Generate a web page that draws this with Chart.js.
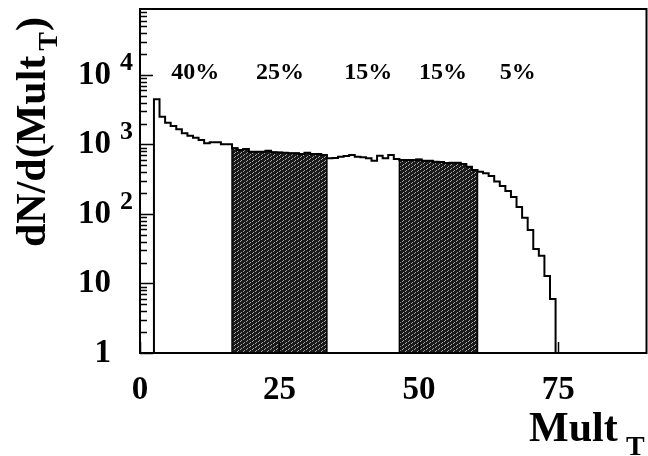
<!DOCTYPE html>
<html>
<head>
<meta charset="utf-8">
<script src="https://cdn.jsdelivr.net/npm/chart.js@4"></script>
<style>
  html, body { margin: 0; padding: 0; background: #fff; }
</style>
</head>
<body>
<canvas id="mult-chart" width="648" height="456"></canvas>
<script>
// Histogram: bins of width 1 centred on integers, first filled bin is Mult_T = 3
var firstBin = 3;
var counts = [
    4470, 2510, 2060, 1845, 1655, 1450, 1340, 1253, 1160, 1040,
    1075, 1075, 1006, 1006, 881, 834, 861, 788, 788, 788,
    813, 772, 767, 762, 747, 747, 730, 762, 730, 730,
    706, 632, 640, 667, 683, 706, 667, 655, 632, 585,
    690, 632, 706, 618, 598, 598, 598, 609, 585, 585,
    566, 560, 540, 548, 548, 524, 479, 430, 406, 385,
    352, 294, 252, 214, 176, 126, 88, 59, 31.4, 25.1,
    12.8, 6.0
];

// Centrality classes (edges in Mult_T), their labels and where the labels sit
var classEdges = [2.5, 16.5, 33.5, 46.5, 60.5, 74.5];
var classLabels = ['40%', '25%', '15%', '15%', '5%'];
var classLabelX = [9.9, 25.1, 40.9, 54.3, 67.7];
var shadedClasses = [1, 3];

// Axis ticks
var xTicks = [0, 25, 50, 75];
var xTickLabels = ['0', '25', '50', '75'];
var yTicks = [1, 10, 100, 1000, 10000];
var yTickBase = ['1', '10', '10', '10', '10'];
var yTickExp = ['', '', '2', '3', '4'];

var FONT = '"Liberation Serif", "Times New Roman", serif';

// outline of the bins with centres lo..hi, closed down to the axis at both ends
function stepPoints(lo, hi) {
    var pts = [{x: lo - 0.5, y: 1}];
    for (var k = lo; k <= hi; k++) {
        var v = counts[k - firstBin];
        pts.push({x: k - 0.5, y: v});
        pts.push({x: k + 0.5, y: v});
    }
    pts.push({x: hi + 0.5, y: 1});
    return pts;
}

var canvas = document.getElementById('mult-chart');
var ctx2d = canvas.getContext('2d');

// dark hatch like the ROOT fill style: short broken diagonal dashes
function makePattern() {
    var c = document.createElement('canvas');
    c.width = 6; c.height = 4;
    var g = c.getContext('2d');
    g.fillStyle = '#1a1a1a';
    g.fillRect(0, 0, 6, 4);
    g.fillStyle = '#a8a8a8';
    g.fillRect(0, 1, 1, 1); g.fillRect(1, 0, 1, 1);
    g.fillRect(3, 3, 1, 1); g.fillRect(4, 2, 1, 1);
    return ctx2d.createPattern(c, 'repeat');
}
var hatch = makePattern();

var datasets = [{
    data: stepPoints(firstBin, firstBin + counts.length - 1),
    borderColor: '#000',
    borderWidth: 2,
    fill: false,
    order: 0
}];
shadedClasses.forEach(function(i) {
    datasets.push({
        data: stepPoints(classEdges[i] + 0.5, classEdges[i + 1] - 0.5),
        borderColor: '#000',
        borderWidth: 1.5,
        backgroundColor: hatch,
        fill: 'start',
        order: 1
    });
});

// ROOT-like frame, inward ticks, labels and titles
var rootFrame = {
    id: 'rootFrame',
    afterDraw: function(chart) {
        var ctx = chart.ctx, a = chart.chartArea;
        var xs = chart.scales.x, ys = chart.scales.y;
        ctx.save();
        ctx.strokeStyle = '#000';
        ctx.fillStyle = '#000';
        ctx.lineWidth = 2;
        ctx.strokeRect(a.left, a.top, a.right - a.left, a.bottom - a.top);

        // y ticks
        ctx.lineWidth = 1.5;
        ctx.beginPath();
        for (var d = 1; d <= ys.max; d *= 10) {
            for (var m = 1; m <= 9; m++) {
                var v = m * d;
                if (v > ys.max) break;
                var py = Math.round(ys.getPixelForValue(v)) + 0.5;
                ctx.moveTo(a.left, py);
                ctx.lineTo(a.left + (m === 1 ? 13 : 7), py);
            }
        }
        // x ticks
        xTicks.forEach(function(t) {
            var px = Math.round(xs.getPixelForValue(t)) + 0.5;
            ctx.moveTo(px, a.bottom);
            ctx.lineTo(px, a.bottom - 11);
        });
        ctx.stroke();

        // y tick labels
        yTicks.forEach(function(t, i) {
            var py = ys.getPixelForValue(t);
            ctx.font = 'bold 33px ' + FONT;
            ctx.textAlign = 'right';
            ctx.textBaseline = 'middle';
            ctx.fillText(yTickBase[i], 111, py);
            if (yTickExp[i]) {
                ctx.font = 'bold 26px ' + FONT;
                ctx.textAlign = 'left';
                ctx.textBaseline = 'alphabetic';
                ctx.fillText(yTickExp[i], 120, py - 5);
            }
        });

        // x tick labels
        ctx.font = 'bold 33px ' + FONT;
        ctx.textAlign = 'center';
        ctx.textBaseline = 'alphabetic';
        xTicks.forEach(function(t, i) {
            ctx.fillText(xTickLabels[i], xs.getPixelForValue(t), 399);
        });

        // centrality labels
        ctx.font = 'bold 24px ' + FONT;
        classLabels.forEach(function(s, i) {
            ctx.fillText(s, xs.getPixelForValue(classLabelX[i]), 79);
        });

        // x title
        ctx.textAlign = 'left';
        ctx.font = 'bold 42px ' + FONT;
        ctx.fillText('Mult', 529, 441);
        ctx.font = 'bold 28px ' + FONT;
        ctx.fillText('T', 626, 455);

        // y title, rotated
        ctx.translate(45, 247);
        ctx.rotate(-Math.PI / 2);
        ctx.font = 'bold 42px ' + FONT;
        ctx.fillText('dN/d(Mult', 0, 0);
        var w = ctx.measureText('dN/d(Mult').width + 5;
        ctx.font = 'bold 28px ' + FONT;
        ctx.fillText('T', w, 12);
        w += ctx.measureText('T').width + 1;
        ctx.font = 'bold 42px ' + FONT;
        ctx.fillText(')', w, 0);
        ctx.restore();
    }
};

var myChart = new Chart(canvas, {
    type: 'line',
    data: { datasets: datasets },
    options: {
        animation: false,
        responsive: false,
        layout: { padding: { left: 140, top: 9, right: 1.5, bottom: 103 } },
        plugins: { legend: { display: false }, tooltip: { enabled: false } },
        elements: { point: { radius: 0 }, line: { tension: 0 } },
        scales: {
            x: { type: 'linear', min: 0, max: 90.8, display: false },
            y: { type: 'logarithmic', min: 1, max: 89000, display: false }
        }
    },
    plugins: [rootFrame]
});
</script>
</body>
</html>
